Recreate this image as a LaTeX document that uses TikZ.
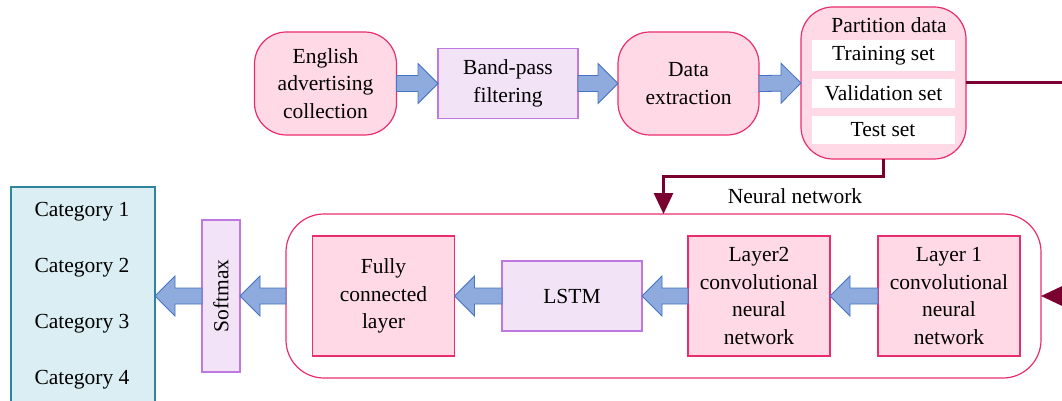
\documentclass[tikz,border=0pt]{standalone}
\usepackage{fontspec}
\setmainfont{Liberation Serif}
\usetikzlibrary{calc,arrows.meta}
\definecolor{pinkfill}{RGB}{255,217,230}
\definecolor{pinkline}{RGB}{233,45,110}
\definecolor{lavfill}{RGB}{242,228,246}
\definecolor{lavline}{RGB}{190,120,225}
\definecolor{arrfill}{RGB}{143,170,220}
\definecolor{arrline}{RGB}{68,114,196}
\definecolor{catfill}{RGB}{218,238,243}
\definecolor{catline}{RGB}{49,133,155}
\definecolor{maroon}{RGB}{122,0,50}
\newcommand{\fatarrow}[2]{%
\draw[fatarrow]($(#1)+(0,8)$)--($(#2)!20pt!(#1)+(0,8)$)--($(#2)!20pt!(#1)+(0,20)$)--(#2)
--($(#2)!20pt!(#1)+(0,-20)$)--($(#2)!20pt!(#1)+(0,-8)$)--($(#1)+(0,-8)$)--cycle;}

\begin{document}
\begin{tikzpicture}[x=1pt,y=-1pt,
every node/.style={font=\fontsize{21.5}{27.5}\selectfont,align=center,inner sep=0,outer sep=0},
pinkround/.style={draw=pinkline,fill=pinkfill,line width=1.2pt,rounded corners=32pt},
pinkbox/.style={draw=pinkline,fill=pinkfill,line width=1.2pt,minimum width=142pt,minimum height=120pt},
lavbox/.style={draw=lavline,fill=lavfill,line width=1.2pt},
setbox/.style={fill=white,minimum width=143pt},
fatarrow/.style={draw=arrline,fill=arrfill,line width=.8pt,line join=miter},
link/.style={draw=maroon,line width=3pt,-{Triangle[length=21pt,width=19pt]}}]
\useasboundingbox(0,0)rectangle(1062,401);
\clip(0,0)rectangle(1062,401);
% top row
\node[pinkround,minimum width=142pt,minimum height=103pt](eng)at(325.5,83.5){English\\advertising\\collection};
\node[lavbox,minimum width=140pt,minimum height=70pt](band)at(508,83.5){Band-pass\\filtering};
\node[pinkround,minimum width=141pt,minimum height=103pt](extr)at(688.5,83.5){Data\\extraction};
\node[pinkround,minimum width=165pt,minimum height=152pt](part)at(883.5,83){};
\node(parttitle)at(889,25){Partition data};
\node[setbox,minimum height=31pt](train)at(883.5,55.5){Training set};
\node[setbox,minimum height=29pt](valid)at(883.5,93.5){Validation set};
\node[setbox,minimum height=28pt](test)at(883,130){Test set};
\fatarrow{eng.east}{band.west}
\fatarrow{band.east}{extr.west}
\fatarrow{extr.east}{part.west}
% network
\node[draw=pinkline,line width=1.2pt,rounded corners=38pt,minimum width=755pt,minimum height=164pt](nn)at(663.5,296){};
\node(nnlabel)at(795,196){Neural network};
\node[pinkbox](fc)at(383.5,296){Fully\\connected\\layer};
\node[lavbox,minimum width=140pt,minimum height=70pt](lstm)at(572,296){LSTM};
\node[pinkbox](conv2)at(759,296){Layer2\\convolutional\\neural\\network};
\node[pinkbox](conv1)at(949,296){Layer 1\\convolutional\\neural\\network};
\fatarrow{conv1.west}{conv2.east}
\fatarrow{conv2.west}{lstm.east}
\fatarrow{lstm.west}{fc.east}
% output
\node[lavbox,minimum width=38pt,minimum height=152pt](soft)at(221,296){};
\node[rotate=90](softlabel)at(soft.center){Softmax};
\node[draw=catline,fill=catfill,line width=1.2pt,minimum width=144pt,minimum height=233pt](cat)at(83,303.5){};
\node(cat1)at(82,212){Category 1};
\node(cat2)at(82,268){Category 2};
\node(cat3)at(82,324){Category 3};
\node(cat4)at(82,380){Category 4};
\coordinate(catin)at(cat.east|-soft.west);
\fatarrow{nn.west}{soft.east}
\fatarrow{soft.west}{catin}
% data flow
\draw[link](part.east)--++(150,0)|-(nn.east);
\draw[link](part.south)--++(0,17)-|(nn.north);
\end{tikzpicture}
\end{document}
